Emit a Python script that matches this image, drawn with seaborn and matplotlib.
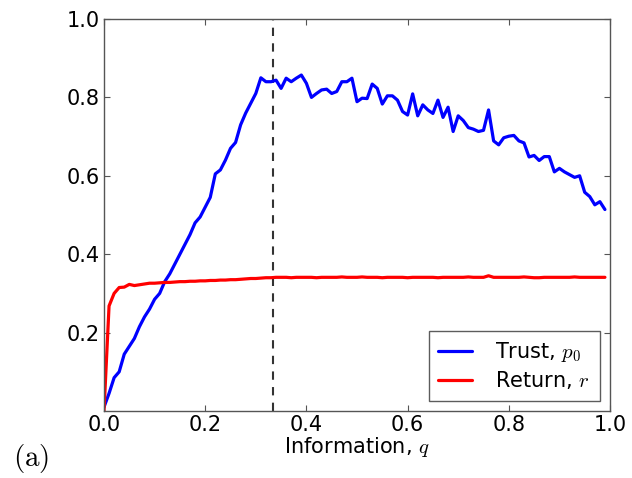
import numpy as np
import pandas as pd
import matplotlib
matplotlib.use("Agg")
import matplotlib.pyplot as plt
import seaborn as sns

# information levels q
q = [round(i * 0.01, 2) for i in range(100)]

trust = [0.010, 0.045, 0.085, 0.100, 0.145, 0.165, 0.185, 0.215, 0.240, 0.260,
         0.285, 0.300, 0.330, 0.350, 0.375, 0.400, 0.425, 0.450, 0.480, 0.495,
         0.520, 0.545, 0.605, 0.615, 0.640, 0.670, 0.685, 0.730, 0.760, 0.785,
         0.810, 0.850, 0.840, 0.840, 0.844, 0.823, 0.849, 0.840, 0.849, 0.857,
         0.836, 0.800, 0.810, 0.819, 0.821, 0.810, 0.815, 0.840, 0.840, 0.849,
         0.789, 0.798, 0.797, 0.834, 0.823, 0.783, 0.804, 0.804, 0.793, 0.764,
         0.755, 0.809, 0.753, 0.781, 0.768, 0.759, 0.793, 0.749, 0.775, 0.713,
         0.753, 0.741, 0.723, 0.719, 0.713, 0.716, 0.768, 0.689, 0.679, 0.697,
         0.701, 0.703, 0.689, 0.684, 0.648, 0.652, 0.639, 0.649, 0.649, 0.610,
         0.619, 0.610, 0.603, 0.596, 0.600, 0.558, 0.547, 0.526, 0.534, 0.514]

ret = [0.000, 0.268, 0.300, 0.315, 0.316, 0.323, 0.320, 0.322, 0.324, 0.326,
       0.326, 0.327, 0.328, 0.328, 0.329, 0.330, 0.330, 0.331, 0.331, 0.332,
       0.332, 0.333, 0.333, 0.334, 0.334, 0.335, 0.335, 0.336, 0.337, 0.338,
       0.338, 0.339, 0.340, 0.340, 0.341, 0.341, 0.341, 0.340, 0.341, 0.341,
       0.341, 0.341, 0.340, 0.341, 0.341, 0.341, 0.341, 0.342, 0.341, 0.341,
       0.341, 0.342, 0.341, 0.341, 0.341, 0.340, 0.341, 0.341, 0.341, 0.341,
       0.340, 0.341, 0.341, 0.341, 0.341, 0.341, 0.340, 0.341, 0.341, 0.341,
       0.341, 0.341, 0.342, 0.341, 0.341, 0.341, 0.345, 0.341, 0.341, 0.341,
       0.341, 0.341, 0.341, 0.342, 0.341, 0.340, 0.340, 0.341, 0.341, 0.341,
       0.341, 0.341, 0.341, 0.342, 0.341, 0.341, 0.341, 0.341, 0.341, 0.341]

q_star = 1 / 3

x_ticks = [0.0, 0.2, 0.4, 0.6, 0.8, 1.0]
y_ticks = [0.2, 0.4, 0.6, 0.8, 1.0]

sns.set_style("white")
plt.rcParams["mathtext.fontset"] = "cm"
plt.rcParams["font.family"] = ["DejaVu Sans"]
plt.rcParams["text.color"] = "black"
plt.rcParams["axes.labelcolor"] = "black"
plt.rcParams["xtick.labelcolor"] = "black"
plt.rcParams["ytick.labelcolor"] = "black"

df = pd.DataFrame({"q": q, "trust": trust, "ret": ret})

fig = plt.figure(figsize=(6.32, 4.78), dpi=100)
ax = fig.add_axes([104 / 632, 1 - 411 / 478, 506 / 632, 392 / 478])

sns.lineplot(data=df, x="q", y="trust", ax=ax, color="#0000ff", lw=2.3,
             label=r"Trust, $p_0$")
sns.lineplot(data=df, x="q", y="ret", ax=ax, color="#ff0000", lw=2.3,
             label=r"Return, $r$")
ax.axvline(q_star, color="#333333", lw=1.5, ls=(0, (4, 3.5)), zorder=1)

ax.set_xlim(0, 1)
ax.set_ylim(0, 1)
ax.set_xticks(x_ticks)
ax.set_xticklabels([f"{t:.1f}" for t in x_ticks])
ax.set_yticks(y_ticks)
ax.set_yticklabels([f"{t:.1f}" for t in y_ticks])
ax.tick_params(direction="in", length=4, width=0.8, color="#555555",
               labelcolor="black", labelsize=15, top=True, right=True,
               bottom=True, left=True, pad=3)
for s in ax.spines.values():
    s.set_color("#555555")
    s.set_linewidth(1.0)

ax.set_xlabel(r"Information, $q$", fontsize=15, labelpad=0, color="black")
ax.set_ylabel("")

leg = ax.legend(loc="lower right", fontsize=15, fancybox=False,
                frameon=True, borderaxespad=0.5, handlelength=1.65,
                handletextpad=1.1, borderpad=0.45, labelspacing=0.25)
leg.get_frame().set_edgecolor("#333333")
leg.get_frame().set_linewidth(1.0)
for t in leg.get_texts():
    t.set_color("black")

fig.text(0.05, 0.04, r"$\mathrm{(a)}$", fontsize=21, ha="center",
         va="center", color="black")

fig.savefig("out.png", dpi=100, facecolor="white")
